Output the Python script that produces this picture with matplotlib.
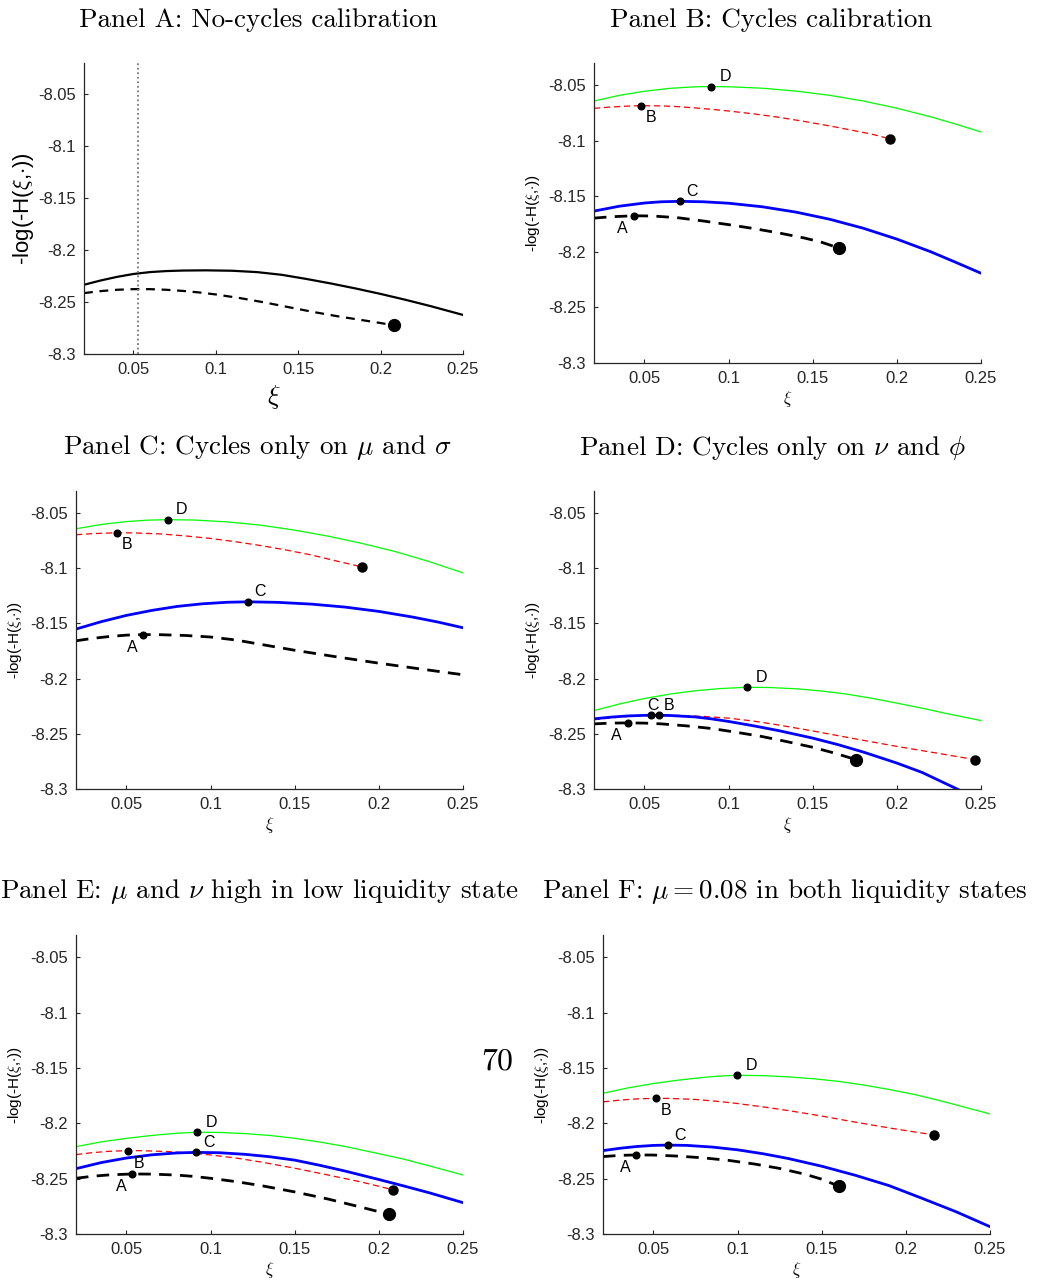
import matplotlib
matplotlib.use("Agg")
import matplotlib.pyplot as plt

plt.rcParams['font.family'] = ['Liberation Sans', 'DejaVu Sans']
plt.rcParams['mathtext.fontset'] = 'cm'
plt.rcParams['axes.unicode_minus'] = False

# ---------------- data ----------------
x_ticks = [0.05, 0.1, 0.15, 0.2, 0.25]
x_tick_labels = ["0.05", "0.1", "0.15", "0.2", "0.25"]
y_ticks = [-8.3, -8.25, -8.2, -8.15, -8.1, -8.05]
y_tick_labels = ["-8.3", "-8.25", "-8.2", "-8.15", "-8.1", "-8.05"]

titles = [
    "Panel A: No-cycles calibration",
    "Panel B: Cycles calibration",
    r"Panel C: Cycles only on $\mu$ and $\sigma$",
    r"Panel D: Cycles only on $\nu$ and $\phi$",
    r"Panel E: $\mu$ and $\nu$ high in low liquidity state",
    r"Panel F: $\mu=0.08$ in both liquidity states",
]
point_letters = ["A", "B", "C", "D"]

# Panel A
a_solid_x = [0.02, 0.03, 0.04, 0.05, 0.06, 0.07, 0.08, 0.094, 0.11, 0.125, 0.14, 0.155, 0.17, 0.185, 0.2, 0.215, 0.23, 0.25]
a_solid_y = [-8.2334, -8.2293, -8.2258, -8.2230, -8.2212, -8.2202, -8.2197, -8.2195, -8.2199, -8.2212, -8.2238, -8.2278,
             -8.2322, -8.2370, -8.2422, -8.2478, -8.2538, -8.2624]
a_dash_x = [0.02, 0.03, 0.04, 0.05, 0.06, 0.07, 0.08, 0.09, 0.1, 0.115, 0.13, 0.145, 0.16, 0.175, 0.19, 0.2, 0.2083]
a_dash_y = [-8.2414, -8.2395, -8.2382, -8.2376, -8.2376, -8.2382, -8.2393, -8.2408, -8.2427, -8.2463, -8.2505, -8.2552,
            -8.2598, -8.2640, -8.2677, -8.2702, -8.2725]
a_vline = 0.0525

# Panel B
b_green_x = [0.02, 0.035, 0.05, 0.065, 0.08, 0.0897, 0.1, 0.12, 0.14, 0.16, 0.18, 0.2, 0.22, 0.235, 0.25]
b_green_y = [-8.0642, -8.0591, -8.0554, -8.0528, -8.0514, -8.0512, -8.0514, -8.0527, -8.0553, -8.0591, -8.0642, -8.0707,
             -8.0784, -8.0850, -8.0921]
b_red_x = [0.02, 0.03, 0.04, 0.0477, 0.06, 0.07, 0.08, 0.09, 0.1, 0.115, 0.13, 0.145, 0.16, 0.175, 0.185, 0.1958]
b_red_y = [-8.0708, -8.0696, -8.0688, -8.0684, -8.0686, -8.0693, -8.0704, -8.0717, -8.0732, -8.0758, -8.0789, -8.0826,
           -8.0866, -8.0910, -8.0940, -8.0982]
b_blue_x = [0.02, 0.035, 0.05, 0.06, 0.0713, 0.085, 0.1, 0.12, 0.14, 0.16, 0.18, 0.2, 0.22, 0.235, 0.25]
b_blue_y = [-8.1633, -8.1589, -8.1560, -8.1549, -8.1545, -8.1549, -8.1562, -8.1594, -8.1642, -8.1706, -8.1787, -8.1885,
            -8.1998, -8.2094, -8.2192]
b_black_x = [0.02, 0.03, 0.0436, 0.055, 0.07, 0.085, 0.1, 0.115, 0.13, 0.145, 0.155, 0.1655]
b_black_y = [-8.1696, -8.1684, -8.1675, -8.1677, -8.1693, -8.1722, -8.1755, -8.1790, -8.1830, -8.1875, -8.1912, -8.1965]
b_pts_x = [0.0436, 0.0477, 0.0713, 0.0897]
b_pts_y = [-8.1675, -8.0684, -8.1545, -8.0512]

# Panel C
c_green_x = [0.02, 0.035, 0.05, 0.0625, 0.0745, 0.09, 0.11, 0.13, 0.15, 0.17, 0.19, 0.21, 0.23, 0.25]
c_green_y = [-8.0642, -8.0603, -8.0577, -8.0564, -8.0560, -8.0563, -8.0580, -8.0610, -8.0655, -8.0710, -8.0775, -8.0850,
             -8.0940, -8.1042]
c_red_x = [0.02, 0.03, 0.0446, 0.055, 0.07, 0.085, 0.1, 0.115, 0.13, 0.145, 0.16, 0.175, 0.1901]
c_red_y = [-8.0696, -8.0686, -8.0678, -8.0680, -8.0689, -8.0707, -8.0730, -8.0760, -8.0795, -8.0835, -8.0880, -8.0935,
           -8.0988]
c_blue_x = [0.02, 0.035, 0.05, 0.065, 0.08, 0.095, 0.11, 0.1223, 0.14, 0.16, 0.18, 0.2, 0.22, 0.235, 0.25]
c_blue_y = [-8.1551, -8.1484, -8.1427, -8.1382, -8.1346, -8.1322, -8.1308, -8.1304, -8.1309, -8.1325, -8.1352, -8.1391,
            -8.1442, -8.1487, -8.1539]
c_black_x = [0.02, 0.03, 0.04, 0.05, 0.06, 0.07, 0.085, 0.1, 0.115, 0.13, 0.15, 0.175, 0.2, 0.225, 0.25]
c_black_y = [-8.1657, -8.1635, -8.1618, -8.1606, -8.1601, -8.1602, -8.1609, -8.1623, -8.1650, -8.1690, -8.1743, -8.1803,
             -8.1860, -8.1913, -8.1965]
c_pts_x = [0.06, 0.0446, 0.1223, 0.0745]
c_pts_y = [-8.1601, -8.0678, -8.1304, -8.0560]

# Panel D
d_green_x = [0.02, 0.035, 0.05, 0.065, 0.08, 0.095, 0.1112, 0.125, 0.14, 0.155, 0.17, 0.185, 0.2, 0.215, 0.23, 0.25]
d_green_y = [-8.2289, -8.2230, -8.2180, -8.2140, -8.2110, -8.2090, -8.2078, -8.2081, -8.2092, -8.2112, -8.2140, -8.2178,
             -8.2222, -8.2268, -8.2318, -8.2380]
d_red_x = [0.02, 0.03, 0.04, 0.05, 0.0588, 0.07, 0.085, 0.1, 0.115, 0.13, 0.15, 0.175, 0.2, 0.225, 0.2467]
d_red_y = [-8.2373, -8.2356, -8.2343, -8.2335, -8.2332, -8.2333, -8.2342, -8.2358, -8.2385, -8.2421, -8.2474, -8.2545,
           -8.2614, -8.2678, -8.2735]
d_blue_x = [0.02, 0.03, 0.04, 0.0536, 0.065, 0.08, 0.09, 0.1, 0.115, 0.13, 0.15, 0.165, 0.18, 0.2, 0.215, 0.2358, 0.25]
d_blue_y = [-8.2364, -8.2349, -8.2338, -8.2331, -8.2334, -8.2347, -8.2365, -8.2388, -8.2428, -8.2472, -8.2539, -8.2598,
            -8.2665, -8.2765, -8.2850, -8.3000, -8.3107]
d_black_x = [0.02, 0.03, 0.04, 0.05, 0.06, 0.075, 0.09, 0.105, 0.12, 0.135, 0.15, 0.163, 0.176]
d_black_y = [-8.2410, -8.2403, -8.2401, -8.2403, -8.2410, -8.2428, -8.2452, -8.2487, -8.2525, -8.2572, -8.2622, -8.2675,
             -8.2735]
d_pts_x = [0.04, 0.0588, 0.0536, 0.1112]
d_pts_y = [-8.2401, -8.2332, -8.2331, -8.2078]

# Panel E
e_green_x = [0.02, 0.035, 0.05, 0.065, 0.08, 0.092, 0.105, 0.12, 0.135, 0.15, 0.165, 0.18, 0.2, 0.215, 0.23, 0.25]
e_green_y = [-8.2211, -8.2168, -8.2136, -8.2110, -8.2090, -8.2081, -8.2083, -8.2093, -8.2110, -8.2136, -8.2170, -8.2210,
             -8.2275, -8.2325, -8.2385, -8.2467]
e_red_x = [0.02, 0.03, 0.04, 0.0511, 0.06, 0.075, 0.09, 0.1, 0.115, 0.13, 0.15, 0.17, 0.19, 0.2082]
e_red_y = [-8.2283, -8.2265, -8.2253, -8.2247, -8.2248, -8.2256, -8.2272, -8.2286, -8.2314, -8.2350, -8.2406, -8.2468,
           -8.2532, -8.2600]
e_blue_x = [0.02, 0.035, 0.05, 0.065, 0.08, 0.0912, 0.105, 0.12, 0.135, 0.15, 0.165, 0.18, 0.2, 0.215, 0.23, 0.25]
e_blue_y = [-8.2410, -8.2355, -8.2314, -8.2285, -8.2268, -8.2263, -8.2266, -8.2280, -8.2302, -8.2333, -8.2380, -8.2432,
            -8.2508, -8.2567, -8.2628, -8.2717]
e_black_x = [0.02, 0.03, 0.04, 0.0535, 0.065, 0.08, 0.09, 0.1, 0.115, 0.13, 0.15, 0.17, 0.19, 0.2061]
e_black_y = [-8.2497, -8.2478, -8.2466, -8.2458, -8.2459, -8.2468, -8.2480, -8.2497, -8.2527, -8.2563, -8.2620, -8.2685,
             -8.2760, -8.2822]
e_pts_x = [0.0535, 0.0511, 0.0912, 0.092]
e_pts_y = [-8.2458, -8.2247, -8.2263, -8.2081]

# Panel F
f_green_x = [0.02, 0.035, 0.05, 0.065, 0.08, 0.09, 0.0998, 0.115, 0.13, 0.145, 0.16, 0.175, 0.19, 0.205, 0.22, 0.235, 0.25]
f_green_y = [-8.1729, -8.1680, -8.1641, -8.1610, -8.1585, -8.1573, -8.1567, -8.1570, -8.1581, -8.1598, -8.1622, -8.1655,
             -8.1695, -8.1740, -8.1795, -8.1855, -8.1916]
f_red_x = [0.02, 0.03, 0.04, 0.0513, 0.06, 0.075, 0.09, 0.1, 0.115, 0.13, 0.15, 0.17, 0.19, 0.205, 0.2167]
f_red_y = [-8.1807, -8.1791, -8.1780, -8.1775, -8.1776, -8.1785, -8.1805, -8.1822, -8.1852, -8.1885, -8.1935, -8.1990,
           -8.2042, -8.2078, -8.2105]
f_blue_x = [0.02, 0.03, 0.04, 0.05, 0.0584, 0.07, 0.085, 0.1, 0.115, 0.13, 0.15, 0.17, 0.19, 0.21, 0.23, 0.25]
f_blue_y = [-8.2247, -8.2226, -8.2210, -8.2200, -8.2197, -8.2200, -8.2215, -8.2240, -8.2275, -8.2318, -8.2388, -8.2470,
            -8.2563, -8.2680, -8.2800, -8.2934]
f_black_x = [0.02, 0.03, 0.0398, 0.05, 0.065, 0.08, 0.095, 0.11, 0.125, 0.14, 0.15, 0.1604]
f_black_y = [-8.2301, -8.2290, -8.2286, -8.2287, -8.2297, -8.2313, -8.2336, -8.2368, -8.2408, -8.2460, -8.2505, -8.2570]
f_pts_x = [0.0398, 0.0513, 0.0584, 0.0998]
f_pts_y = [-8.2286, -8.1775, -8.2197, -8.1567]

# ---------------- layout / style ----------------
W, H = 1037, 1286
fig = plt.figure(figsize=(W / 100, H / 100), dpi=100)

def px_axes(l, t, r, b):
    return fig.add_axes([l / W, 1 - b / H, (r - l) / W, (b - t) / H])

axes_px = [(84, 63, 463, 354), (594, 63, 981, 363),
           (76, 491, 463, 789), (594, 491, 981, 789),
           (76, 935, 463, 1234), (603, 935, 990, 1234)]
title_px = [(258, 20), (771, 20), (257, 448), (773, 448), (259, 892), (785, 892)]
ylims = [(-8.3, -8.02)] + [(-8.3, -8.03)] * 5
spine_col = '#262626'

label_offsets = [
    {"A": (-11, -13), "B": (10, -12), "C": (12, 10), "D": (14, 10)},  # B
    {"A": (-11, -13), "B": (10, -12), "C": (12, 10), "D": (14, 10)},  # C
    {"A": (-11, -13), "B": (10, 10), "C": (2, 10), "D": (14, 10)},    # D
    {"A": (-11, -13), "B": (11, -13), "C": (13, 10), "D": (14, 10)},  # E
    {"A": (-11, -13), "B": (10, -12), "C": (12, 10), "D": (14, 10)},  # F
]

axs = []
for i, box in enumerate(axes_px):
    ax = px_axes(*box)
    axs.append(ax)
    ax.set_xlim(0.02, 0.25)
    ax.set_ylim(*ylims[i])
    ax.set_xticks(x_ticks)
    ax.set_xticklabels(x_tick_labels)
    ax.set_yticks(y_ticks)
    ax.set_yticklabels(y_tick_labels)
    for s in ['top', 'right']:
        ax.spines[s].set_visible(False)
    for s in ['left', 'bottom']:
        ax.spines[s].set_color(spine_col)
        ax.spines[s].set_linewidth(0.9)
    ax.tick_params(direction='in', length=3, width=0.8, colors=spine_col,
                   labelsize=12, labelcolor='#262626', pad=6)
    fig.text(title_px[i][0] / W, 1 - title_px[i][1] / H, titles[i],
             family='cmr10', fontsize=19.5, ha='center', va='center')

pts_to_px = 0.72

# Panel A
ax = axs[0]
ax.plot(a_solid_x, a_solid_y, color='black', lw=1.6)
ax.plot(a_dash_x, a_dash_y, color='black', lw=1.6, dashes=(4, 3))
ax.plot(a_dash_x[-1], a_dash_y[-1], 'o', color='black', ms=8.5)
ax.axvline(a_vline, color='#777777', lw=1.3, ls=(0, (1, 1.5)))
ax.set_ylabel(r"-log(-H($\xi$,$\cdot$))", fontsize=16, labelpad=1)
ax.set_xlabel(r"$\xi$", fontsize=19, labelpad=4)

panels = [
    (b_green_x, b_green_y, b_red_x, b_red_y, b_blue_x, b_blue_y, b_black_x, b_black_y, b_pts_x, b_pts_y),
    (c_green_x, c_green_y, c_red_x, c_red_y, c_blue_x, c_blue_y, c_black_x, c_black_y, c_pts_x, c_pts_y),
    (d_green_x, d_green_y, d_red_x, d_red_y, d_blue_x, d_blue_y, d_black_x, d_black_y, d_pts_x, d_pts_y),
    (e_green_x, e_green_y, e_red_x, e_red_y, e_blue_x, e_blue_y, e_black_x, e_black_y, e_pts_x, e_pts_y),
    (f_green_x, f_green_y, f_red_x, f_red_y, f_blue_x, f_blue_y, f_black_x, f_black_y, f_pts_x, f_pts_y),
]
black_end_dot = [True, False, True, True, True]

for k, (gx, gy, rx, ry, bx, by, kx, ky, px, py) in enumerate(panels):
    ax = axs[k + 1]
    ax.plot(gx, gy, color='#00ff00', lw=0.9)
    ax.plot(rx, ry, color='#ff0000', lw=0.9, dashes=(5, 3))
    ax.plot(bx, by, color='#0000ff', lw=2.0)
    ax.plot(kx, ky, color='black', lw=2.0, dashes=(4.5, 3))
    ax.plot(rx[-1], ry[-1], 'o', color='black', ms=6.5)
    if black_end_dot[k]:
        ax.plot(kx[-1], ky[-1], 'o', color='black', ms=8.5)
    ax.plot(px, py, 'o', color='black', ms=4.8, ls='none')
    for j, L in enumerate(point_letters):
        dx, dy = label_offsets[k][L]
        ax.annotate(L, (px[j], py[j]), xytext=(dx * pts_to_px, dy * pts_to_px),
                    textcoords='offset points', ha='center', va='center',
                    fontsize=11.5)
    ax.set_ylabel(r"-log(-H($\xi$,$\cdot$))", fontsize=11, labelpad=4)
    ax.set_xlabel(r"$\xi$", fontsize=12, labelpad=2)

fig.text(497 / W, 1 - 1062 / H, "70", family='cmr10', fontsize=23,
         ha='center', va='center')

fig.savefig("out.png", dpi=100)
